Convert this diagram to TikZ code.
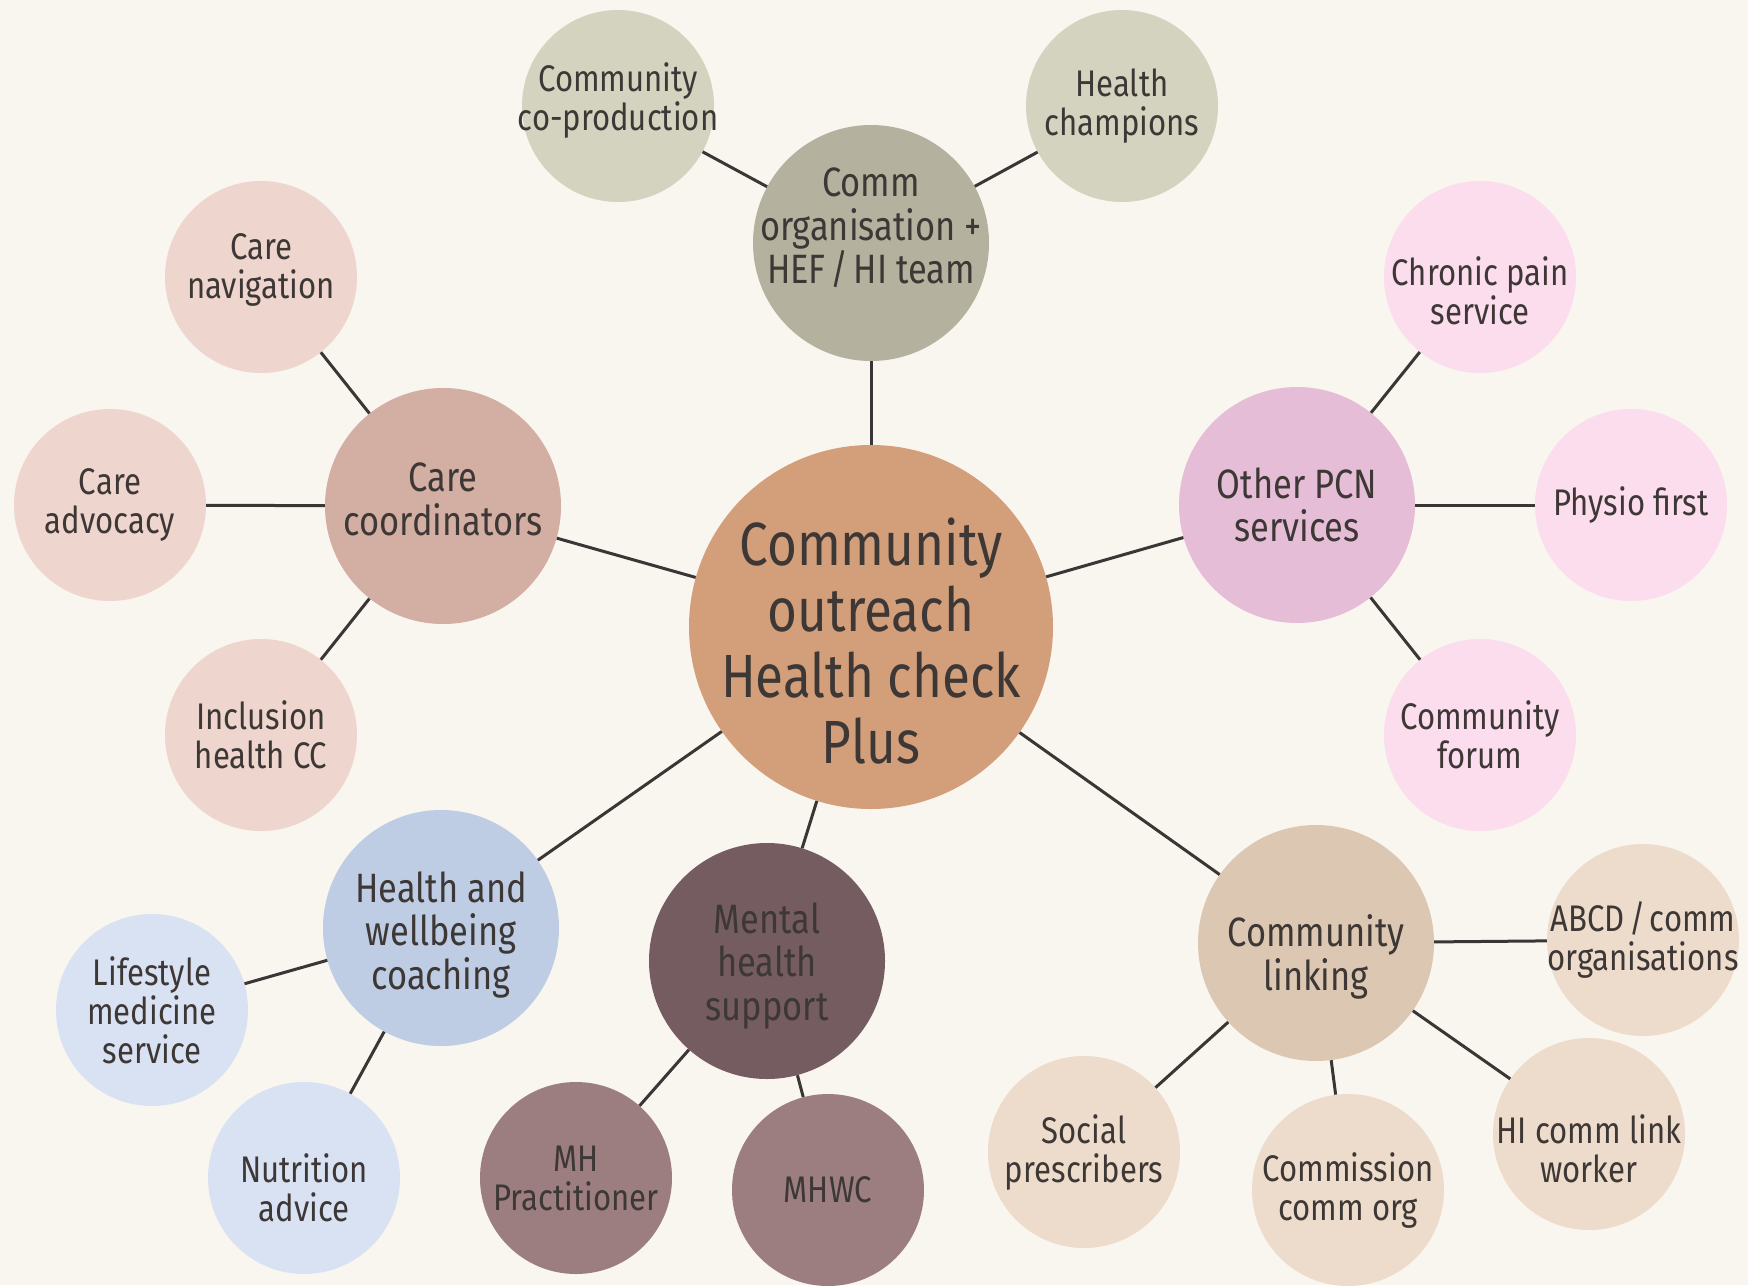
\documentclass[tikz,border=0pt]{standalone}
\usepackage{fontspec}
\setmainfont{Fira Sans}[FakeStretch=0.84]
\definecolor{bg}{HTML}{F9F5EF}
\definecolor{txt}{HTML}{3D3735}
\definecolor{lne}{HTML}{3A3636}
\definecolor{cCenter}{HTML}{D29F7A}
\definecolor{cComm}{HTML}{B4B29E}
\definecolor{cCommK}{HTML}{D3D3BF}
\definecolor{cCare}{HTML}{D2AEA3}
\definecolor{cCareK}{HTML}{EED5CD}
\definecolor{cPcn}{HTML}{E6BDD6}
\definecolor{cPcnK}{HTML}{FCDDEE}
\definecolor{cHw}{HTML}{BECCE4}
\definecolor{cHwK}{HTML}{D9E2F3}
\definecolor{cMh}{HTML}{745C60}
\definecolor{cMhK}{HTML}{9C7E80}
\definecolor{cLink}{HTML}{DCC7B2}
\definecolor{cLinkK}{HTML}{EDDCCB}
% invisible struts used to nudge text inside a bubble
\newcommand\tallstrut[1]{\rule{0pt}{#1}}
\newcommand\deepstrut[1]{\rule[-#1]{0pt}{#1}}
\newcommand\slsh{\hspace{0.12em}/\hspace{0.12em}}
\begin{document}
\begin{tikzpicture}[x=1pt,y=-1pt,
  bub/.style={circle, inner sep=-80pt, align=center, text=txt},
  hub/.style={bub, minimum size=364pt, font=\fontsize{61}{66}\selectfont},
  mid/.style={bub, minimum size=236pt, font=\fontsize{41}{43.5}\selectfont},
  kid/.style={bub, minimum size=192pt, font=\fontsize{37}{39}\selectfont},
  link/.style={draw=lne, line width=3pt}]
\useasboundingbox (0,0) rectangle (1748,1285);
\fill[bg] (0,0) rectangle (1748,1285);

\node[hub, fill=cCenter] (center) at (871,627) {\tallstrut{76pt}Community\\outreach\\Health check\\Plus};

\node[mid, fill=cComm] (comm) at (871,243) {Comm\\organisation +\\HEF\slsh HI team\deepstrut{34pt}};
\node[kid, fill=cCommK] (coprod) at (618,106) {Community\\co-production\deepstrut{18pt}};
\node[kid, fill=cCommK] (champ) at (1122,106) {Health\\champions};

\node[mid, fill=cCare] (carec) at (443,506) {Care\\coordinators\deepstrut{14pt}};
\node[kid, fill=cCareK] (nav) at (261,277) {Care\\navigation\deepstrut{22pt}};
\node[kid, fill=cCareK] (adv) at (110,505) {Care\\advocacy};
\node[kid, fill=cCareK] (incl) at (261,735) {Inclusion\\health CC};

\node[mid, fill=cPcn] (pcn) at (1297,505) {Other PCN\\services};
\node[kid, fill=cPcnK] (pain) at (1480,277) {\tallstrut{57pt}Chronic pain\\service};
\node[kid, fill=cPcnK] (physio) at (1631,505) {Physio first};
\node[kid, fill=cPcnK] (forum) at (1480,735) {Community\\forum};

\node[mid, fill=cHw] (hw) at (441,928) {\tallstrut{44pt}Health and\\wellbeing\\coaching};
\node[kid, fill=cHwK] (life) at (152,1010) {Lifestyle\\medicine\\service};
\node[kid, fill=cHwK] (nutr) at (304,1178) {\tallstrut{48pt}Nutrition\\advice};

\node[mid, fill=cMh] (mh) at (767,961) {\tallstrut{40pt}Mental\\health\\support};
\node[kid, fill=cMhK] (mhp) at (576,1178) {MH\\Practitioner};
\node[kid, fill=cMhK] (mhwc) at (828,1190) {MHWC};

\node[mid, fill=cLink] (clink) at (1316,943) {\tallstrut{60pt}Community\\linking};
\node[kid, fill=cLinkK] (abcd) at (1643,940) {ABCD\slsh comm\\organisations};
\node[kid, fill=cLinkK] (social) at (1084,1152) {Social\\prescribers};
\node[kid, fill=cLinkK] (commission) at (1348,1190) {Commission\\comm org};
\node[kid, fill=cLinkK] (hilink) at (1589,1134) {\tallstrut{58pt}HI comm link\\worker};

\draw[link] (center) -- (comm);
\draw[link] (center) -- (carec);
\draw[link] (center) -- (pcn);
\draw[link] (center) -- (hw);
\draw[link] (center) -- (mh);
\draw[link] (center) -- (clink);
\draw[link] (comm) -- (coprod);
\draw[link] (comm) -- (champ);
\draw[link] (carec) -- (nav);
\draw[link] (carec) -- (adv);
\draw[link] (carec) -- (incl);
\draw[link] (pcn) -- (pain);
\draw[link] (pcn) -- (physio);
\draw[link] (pcn) -- (forum);
\draw[link] (hw) -- (life);
\draw[link] (hw) -- (nutr);
\draw[link] (mh) -- (mhp);
\draw[link] (mh) -- (mhwc);
\draw[link] (clink) -- (abcd);
\draw[link] (clink) -- (social);
\draw[link] (clink) -- (commission);
\draw[link] (clink) -- (hilink);
\end{tikzpicture}
\end{document}
